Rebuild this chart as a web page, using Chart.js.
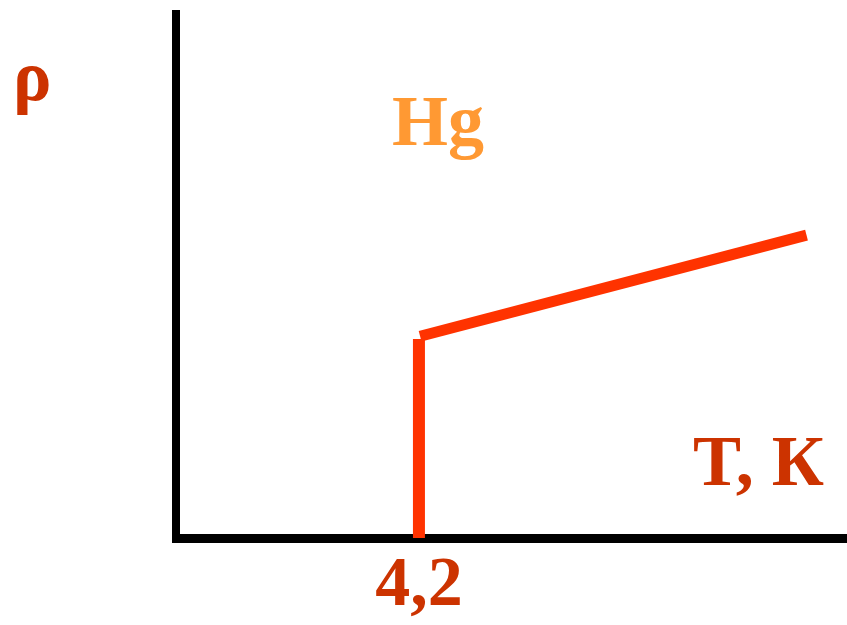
<!DOCTYPE html>
<html>
<head>
<meta charset="utf-8">
<title>Hg</title>
<script src="https://cdn.jsdelivr.net/npm/chart.js@4.4.1/dist/chart.umd.min.js"></script>
<style>
  html, body { margin: 0; padding: 0; background: #fff; }
  #wrap { width: 847px; height: 625px; }
</style>
</head>
<body>
<div id="wrap"><canvas id="myChart" width="847" height="625"></canvas></div>
<script>
// critical temperature of mercury and resistance curve
const tickValues = [4.2];
const tickLabels = ['4,2'];
const dropX = [4.2, 4.2];
const dropY = [0, 3.8];
const riseX = [4.22, 10.9];
const riseY = [3.85, 5.78];

const xMax = 11.6;
const yMax = 10;

const LINE = '#ff3300';
const DARK = '#cc3300';
const HG = '#ff9933';
const SERIF = '"Liberation Serif", "Times New Roman", serif';

function toPoints(xs, ys) {
  return xs.map((x, i) => ({ x: x, y: ys[i] }));
}

// captions: ρ at the axis top, Hg, and T, К near the axis end
const captions = {
  id: 'captions',
  afterDraw(chart) {
    const c = chart.ctx;
    const a = chart.chartArea;
    c.save();
    c.textBaseline = 'alphabetic';
    c.textAlign = 'left';
    c.font = 'bold 72px ' + SERIF;
    c.fillStyle = DARK;
    c.fillText('ρ', a.left - 163, a.top + 86);
    c.fillStyle = HG;
    c.fillText('Hg', a.left + 216, a.top + 131);
    c.fillStyle = DARK;
    c.fillText('T, К', a.left + 517, a.bottom - 53);
    c.restore();
  }
};

const ctx = document.getElementById('myChart').getContext('2d');
const myChart = new Chart(ctx, {
  type: 'scatter',
  data: {
    datasets: [
      {
        data: toPoints(dropX, dropY),
        showLine: true,
        borderColor: LINE,
        borderWidth: 12,
        borderCapStyle: 'butt',
        pointRadius: 0,
        fill: false
      },
      {
        data: toPoints(riseX, riseY),
        showLine: true,
        borderColor: LINE,
        borderWidth: 11,
        borderCapStyle: 'butt',
        pointRadius: 0,
        fill: false
      }
    ]
  },
  options: {
    responsive: false,
    animation: false,
    devicePixelRatio: 1,
    layout: { padding: { top: 14, left: 0, right: 0, bottom: 0 } },
    plugins: {
      legend: { display: false },
      tooltip: { enabled: false }
    },
    scales: {
      x: {
        type: 'linear',
        min: 0,
        max: xMax,
        afterBuildTicks: function (scale) {
          scale.ticks = tickValues.map(v => ({ value: v }));
        },
        afterFit: function (scale) {
          scale.height = 87;
        },
        ticks: {
          padding: 7,
          color: DARK,
          font: { family: SERIF, size: 70, weight: 'bold' },
          callback: function (value) {
            const i = tickValues.indexOf(value);
            return i >= 0 ? tickLabels[i] : '';
          }
        },
        grid: { display: false, drawTicks: false },
        border: { display: true, color: '#000', width: 9 }
      },
      y: {
        type: 'linear',
        min: 0,
        max: yMax,
        afterFit: function (scale) {
          scale.width = 176;
        },
        ticks: { display: false },
        grid: { display: false, drawTicks: false },
        border: { display: true, color: '#000', width: 8 }
      }
    }
  },
  plugins: [captions]
});
</script>
</body>
</html>
